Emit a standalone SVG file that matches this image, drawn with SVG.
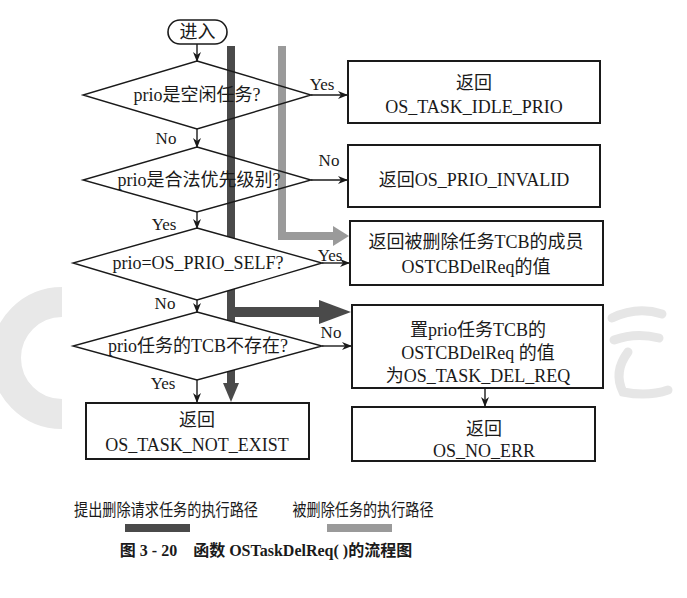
<svg xmlns="http://www.w3.org/2000/svg" width="687" height="598" viewBox="0 0 687 598">
<style>
.t,.lbl,.lg,.cap{font-family:"Liberation Serif","Times New Roman",Tinos,"DejaVu Serif","Noto Sans CJK SC",serif;fill:#1a1a1a;text-anchor:middle}
.t{font-size:18px}
.lbl{font-size:17px}
.lg{font-size:17px}
.cap{font-size:16px;font-weight:bold}
.box{fill:#fff;stroke:#1a1a1a;stroke-width:2}
.dia{fill:none;stroke:#1a1a1a;stroke-width:1.4}
.diaw{fill:#fff;stroke:#1a1a1a;stroke-width:1.4}
.ln{stroke:#1a1a1a;stroke-width:1.4;fill:none;marker-end:url(#ah)}
</style>
<defs>
<marker id="ah" markerWidth="10" markerHeight="8" refX="9" refY="4" orient="auto" markerUnits="userSpaceOnUse">
<path d="M0,0 L10,4 L0,8 L3,4 Z" fill="#1a1a1a"/>
</marker>
</defs>
<rect width="687" height="598" fill="#fff"/>
<g id="watermark">
<path d="M62,302 A56,56 0 1 0 62,414" fill="none" stroke="#e8e8e8" stroke-width="30"/>
<path d="M612,318 q25,-12 50,-4 M614,340 q22,-8 45,-2 M628,352 q-15,20 -5,40 q25,5 45,-2" fill="none" stroke="#e6e6e6" stroke-width="9" stroke-linecap="round"/>
</g>
<g id="paths">
<rect x="227" y="46" width="8" height="338" fill="#4a4a4a"/>
<path d="M223,383 L239,383 L231,402 Z" fill="#4a4a4a"/>
<rect x="231" y="307" width="90" height="10" fill="#4a4a4a"/>
<path d="M319,300 L351,312 L319,324 Z" fill="#4a4a4a"/>
<path d="M282,46 L282,236 L334,236" fill="none" stroke="#9a9a9a" stroke-width="8"/>
<path d="M333,226 L349,236 L333,246 Z" fill="#9a9a9a"/>
</g>
<g id="start">
<rect x="168" y="20" width="59" height="24" rx="12" fill="#fff" stroke="#1a1a1a" stroke-width="1.6"/>
<text class="t" x="197.5" y="38">进入</text>
</g>
<g id="d1">
<polygon class="dia" points="197,61 311,95 197,129 83,95"/>
<text class="t" x="197" y="101">prio是空闲任务?</text>
</g>
<g id="d2">
<polygon class="dia" points="197,147 311,180 197,212 83,180"/>
<text class="t" x="199" y="186">prio是合法优先级别?</text>
</g>
<g id="d3">
<polygon class="diaw" points="197,228 322,263 197,300 73,263"/>
<text class="t" x="198" y="269">prio=OS_PRIO_SELF?</text>
</g>
<g id="d4">
<polygon class="diaw" points="197,312 322,346 197,380 73,346"/>
<text class="t" x="198" y="352">prio任务的TCB不存在?</text>
</g>
<g id="b1">
<rect class="box" x="348" y="61" width="252" height="62"/>
<text class="t" x="474" y="89">返回</text>
<text class="t" x="474" y="113">OS_TASK_IDLE_PRIO</text>
</g>
<g id="b2">
<rect class="box" x="348" y="145" width="252" height="62"/>
<text class="t" x="474" y="186">返回OS_PRIO_INVALID</text>
</g>
<g id="b3">
<rect class="box" x="350" y="221" width="253" height="64"/>
<text class="t" x="476" y="248">返回被删除任务TCB的成员</text>
<text class="t" x="476" y="273">OSTCBDelReq的值</text>
</g>
<g id="b4">
<rect class="box" x="352" y="305" width="251" height="83"/>
<text class="t" x="478" y="336">置prio任务TCB的</text>
<text class="t" x="478" y="359">OSTCBDelReq 的值</text>
<text class="t" x="478" y="382">为OS_TASK_DEL_REQ</text>
</g>
<g id="b5">
<rect class="box" x="86" y="403" width="223" height="56"/>
<text class="t" x="197" y="426">返回</text>
<text class="t" x="197" y="451">OS_TASK_NOT_EXIST</text>
</g>
<g id="b6">
<rect class="box" x="352" y="407" width="243" height="54"/>
<text class="t" x="484" y="435">返回</text>
<text class="t" x="484" y="457">OS_NO_ERR</text>
</g>
<g id="connectors">
<path class="ln" d="M197,44 L197,61"/>
<path class="ln" d="M311,95 L347,95"/>
<path class="ln" d="M197,129 L197,147"/>
<path class="ln" d="M311,180 L347,180"/>
<path class="ln" d="M197,212 L197,228"/>
<path class="ln" d="M322,263 L349,263"/>
<path class="ln" d="M197,300 L197,312"/>
<path class="ln" d="M322,346 L351,346"/>
<path class="ln" d="M197,380 L197,402"/>
<path class="ln" d="M485,388 L485,406"/>
<text class="lbl" x="322" y="90">Yes</text>
<text class="lbl" x="166" y="144">No</text>
<text class="lbl" x="329" y="166">No</text>
<text class="lbl" x="164" y="230">Yes</text>
<text class="lbl" x="330" y="261">Yes</text>
<text class="lbl" x="165" y="309">No</text>
<text class="lbl" x="331" y="338">No</text>
<text class="lbl" x="163" y="389">Yes</text>
</g>
<g id="legend">
<text class="lg" x="166" y="516" textLength="184" lengthAdjust="spacingAndGlyphs">提出删除请求任务的执行路径</text>
<rect x="125" y="524" width="65" height="8" fill="#4a4a4a"/>
<text class="lg" x="363" y="516" textLength="141" lengthAdjust="spacingAndGlyphs">被删除任务的执行路径</text>
<rect x="327" y="524" width="65" height="8" fill="#9a9a9a"/>
</g>
<text class="cap" x="266" y="556" xml:space="preserve">图 3 - 20    函数 OSTaskDelReq( )的流程图</text>
</svg>
